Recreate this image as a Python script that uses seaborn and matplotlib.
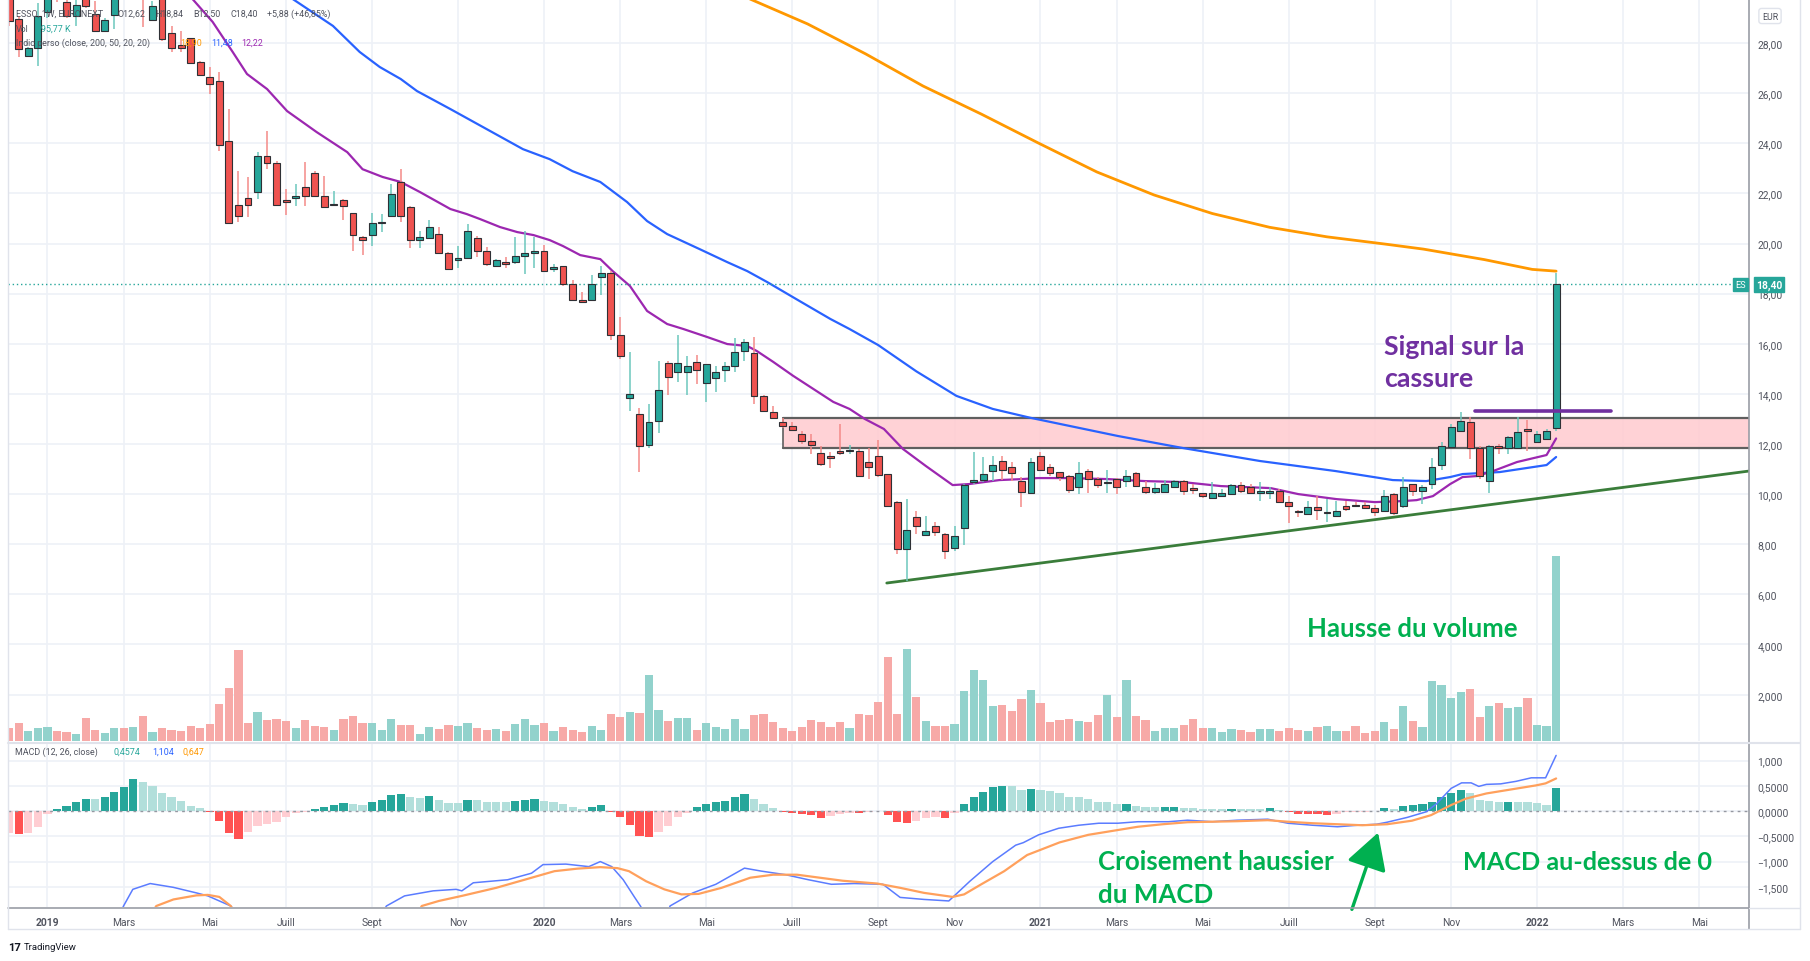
import numpy as np
import pandas as pd
import matplotlib
matplotlib.use("Agg")
import matplotlib.pyplot as plt
import seaborn as sns
from matplotlib.lines import Line2D

# ---------------- DATA ----------------
start_date = "2018-12-10"   # weekly candles (Mondays)
opens = [30.40, 28.97, 27.48, 27.79, 29.23, 30.80, 29.66, 29.10, 30.00, 29.16,
         28.50, 29.13, 30.40, 30.00, 30.60, 28.94, 29.90, 28.39, 27.94, 28.21,
         27.26, 26.65, 26.48, 24.10, 21.55, 21.82, 22.07, 23.51, 23.23, 21.75,
         21.82, 22.25, 22.81, 21.91, 21.53, 21.75, 21.21, 20.25, 20.34, 20.82,
         21.11, 22.45, 21.47, 20.15, 20.24, 20.39, 19.63, 19.36, 19.44, 20.22,
         19.69, 19.09, 19.25, 19.25, 19.52, 19.63, 19.69, 19.00, 19.09, 18.39,
         17.76, 17.76, 18.65, 18.83, 16.36, 13.82, 13.20, 11.96, 12.93, 15.23,
         14.86, 14.86, 15.26, 14.42, 14.62, 14.97, 15.13, 15.73, 15.63, 13.93,
         13.26, 12.86, 12.73, 12.40, 12.13, 11.64, 11.53, 11.70, 11.71, 11.73,
         11.27, 11.53, 10.79, 9.70, 7.81, 9.10, 8.38, 8.71, 8.41, 7.85,
         8.65, 10.50, 10.56, 10.93, 11.31, 11.07, 10.51, 10.03, 11.53, 11.07,
         10.87, 10.71, 10.27, 10.94, 10.60, 10.43, 10.60, 10.51, 10.84, 10.30,
         10.10, 10.10, 10.30, 10.54, 10.23, 10.04, 9.84, 9.91, 10.00, 10.36,
         10.30, 10.03, 10.03, 10.14, 9.70, 9.32, 9.20, 9.47, 9.23, 9.14,
         9.54, 9.58, 9.56, 9.43, 9.34, 10.01, 9.54, 10.40, 10.14, 10.40,
         11.16, 11.90, 12.53, 12.89, 11.83, 10.54, 11.93, 11.83, 11.83, 12.54,
         12.09, 12.20, 12.62]
highs = [30.80, 29.10, 27.85, 29.60, 30.60, 31.20, 30.00, 29.90, 30.20, 29.70,
         29.00, 30.40, 30.80, 30.70, 30.90, 29.70, 30.00, 28.70, 28.50, 28.21,
         27.30, 27.04, 26.84, 25.37, 22.91, 22.65, 23.67, 24.48, 23.30, 22.18,
         22.38, 23.24, 22.90, 22.71, 22.09, 21.78, 21.21, 20.30, 21.21, 21.18,
         22.38, 22.98, 21.50, 20.49, 20.94, 20.68, 19.65, 19.89, 20.78, 20.30,
         19.85, 19.40, 19.45, 20.25, 20.52, 20.25, 19.96, 19.18, 19.10, 18.56,
         18.05, 18.76, 19.09, 18.90, 17.06, 15.66, 13.43, 13.60, 15.33, 15.30,
         16.35, 15.53, 15.55, 15.20, 15.10, 15.26, 16.22, 16.19, 16.26, 13.95,
         13.53, 13.02, 12.86, 12.53, 12.40, 11.93, 11.67, 12.80, 11.96, 11.80,
         11.83, 12.16, 10.80, 9.72, 9.80, 9.34, 9.11, 8.87, 8.45, 8.71,
         10.40, 11.69, 11.47, 11.53, 11.51, 11.27, 10.67, 11.43, 11.69, 11.20,
         10.90, 10.75, 11.27, 11.00, 10.67, 10.98, 10.65, 10.98, 10.87, 10.54,
         10.44, 10.58, 10.57, 10.57, 10.40, 10.06, 10.50, 10.20, 10.40, 10.47,
         10.40, 10.50, 10.27, 10.20, 9.94, 9.35, 9.74, 9.91, 9.80, 9.74,
         9.74, 9.67, 9.67, 9.56, 10.18, 10.05, 10.67, 10.42, 10.35, 11.43,
         12.09, 12.80, 13.29, 13.06, 11.93, 11.95, 12.00, 12.30, 13.09, 12.96,
         12.53, 12.60, 18.84]
lows = [28.70, 27.44, 27.44, 27.10, 29.00, 29.63, 29.00, 28.70, 29.40, 28.45,
        28.45, 28.57, 29.85, 29.90, 28.63, 28.90, 28.10, 27.64, 27.64, 27.15,
        26.68, 25.97, 23.68, 20.80, 20.87, 21.05, 21.78, 22.98, 21.50, 21.14,
        21.51, 21.49, 21.85, 21.45, 21.51, 20.95, 19.72, 19.56, 19.92, 20.45,
        21.10, 20.87, 19.83, 19.82, 20.20, 19.60, 18.95, 19.01, 19.40, 19.45,
        19.10, 19.05, 19.01, 19.20, 18.79, 19.01, 18.90, 18.85, 18.32, 17.72,
        17.63, 17.70, 17.96, 16.16, 15.39, 13.30, 10.90, 11.84, 12.43, 13.97,
        14.46, 13.96, 14.40, 13.69, 14.09, 14.46, 14.86, 15.33, 13.60, 13.30,
        13.00, 12.65, 12.50, 12.00, 11.60, 11.13, 11.03, 11.55, 11.60, 10.70,
        10.60, 10.70, 9.50, 7.60, 6.55, 8.41, 8.34, 8.34, 7.41, 7.74,
        7.97, 10.40, 10.47, 10.54, 10.58, 10.54, 9.47, 10.00, 10.94, 10.71,
        10.54, 10.03, 10.00, 10.04, 10.23, 10.03, 10.00, 10.27, 10.27, 10.00,
        10.00, 10.07, 10.27, 9.96, 10.00, 9.83, 9.83, 9.87, 9.98, 10.04,
        10.00, 9.74, 9.80, 9.67, 8.85, 9.10, 9.15, 8.98, 8.90, 9.10,
        9.34, 9.47, 9.40, 9.14, 9.30, 9.18, 9.43, 9.94, 9.60, 10.20,
        10.97, 11.86, 12.50, 11.40, 10.60, 10.04, 11.60, 11.60, 11.80, 11.73,
        12.06, 12.17, 12.50]
closes = [28.90, 27.77, 27.79, 29.07, 30.20, 30.10, 29.10, 29.52, 29.47, 28.50,
          28.94, 30.00, 30.00, 30.40, 29.90, 29.50, 28.17, 27.79, 27.79, 27.20,
          26.73, 26.39, 23.94, 20.82, 21.11, 21.55, 23.50, 23.23, 21.55, 21.65,
          21.91, 21.91, 21.91, 21.47, 21.57, 21.49, 20.34, 20.16, 20.83, 20.86,
          21.98, 21.11, 20.15, 20.25, 20.66, 19.63, 18.99, 19.43, 20.52, 19.72,
          19.19, 19.36, 19.19, 19.52, 19.63, 19.69, 18.92, 19.01, 18.39, 17.76,
          17.68, 18.39, 18.83, 16.36, 15.50, 14.00, 11.93, 12.89, 14.17, 14.69,
          15.23, 15.10, 14.97, 15.19, 14.86, 15.10, 15.66, 16.06, 13.93, 13.33,
          13.02, 12.70, 12.57, 12.13, 11.96, 11.20, 11.43, 11.65, 11.76, 10.74,
          11.07, 10.78, 9.54, 7.81, 8.58, 8.71, 8.54, 8.47, 7.74, 8.31,
          10.36, 10.57, 10.80, 11.16, 10.98, 10.84, 10.10, 11.27, 10.98, 10.84,
          10.67, 10.18, 10.84, 10.60, 10.36, 10.50, 10.27, 10.71, 10.31, 10.10,
          10.23, 10.40, 10.54, 10.14, 10.16, 9.91, 10.03, 10.03, 10.36, 10.14,
          10.03, 10.11, 10.14, 9.70, 9.54, 9.28, 9.47, 9.38, 9.27, 9.34,
          9.40, 9.51, 9.43, 9.27, 9.94, 9.25, 10.30, 10.14, 10.30, 11.07,
          11.93, 12.66, 12.93, 11.83, 10.71, 11.93, 11.84, 12.29, 12.49, 12.52,
          12.40, 12.53, 18.40]
volume = [671, 895, 579, 697, 737, 553, 526, 447, 1066, 618,
          487, 697, 697, 724, 1158, 513, 697, 618, 553, 776,
          684, 855, 1645, 2277, 3816, 895, 1329, 1013, 1053, 947,
          697, 987, 750, 724, 618, 1053, 1158, 882, 895, 618,
          1053, 816, 816, 447, 724, 658, 816, 750, 882, 697,
          618, 658, 579, 855, 1053, 816, 882, 579, 724, 618,
          540, 776, 618, 1250, 1119, 1316, 1277, 2816, 1382, 947,
          1092, 1092, 618, 882, 724, 658, 1053, 658, 1211, 1250,
          921, 697, 547, 724, 1000, 921, 724, 921, 697, 1250,
          1211, 1724, 3514, 1250, 3856, 1921, 947, 750, 776, 855,
          2158, 2987, 2593, 1553, 1592, 1355, 1842, 2211, 1684, 921,
          987, 1053, 947, 921, 1184, 1987, 1119, 2593, 1158, 987,
          553, 697, 697, 816, 1026, 697, 697, 513, 658, 618,
          513, 658, 658, 579, 697, 618, 579, 724, 776, 579,
          579, 750, 487, 579, 921, 658, 1553, 947, 724, 2553,
          2382, 1882, 2119, 2237, 1119, 1553, 1684, 1487, 1527, 1882,
          816, 776, 7580]
macd_hist = [-0.43, -0.46, -0.44, -0.32, -0.06, 0.04, 0.11, 0.19, 0.25, 0.245,
             0.28, 0.375, 0.47, 0.64, 0.58, 0.50, 0.36, 0.28, 0.20, 0.11,
             0.066, -0.01, -0.19, -0.44, -0.56, -0.41, -0.29, -0.26, -0.22, -0.125,
             -0.03, -0.01, 0.04, 0.08, 0.125, 0.17, 0.14, 0.125, 0.18, 0.22,
             0.32, 0.34, 0.28, 0.26, 0.30, 0.22, 0.16, 0.158, 0.22, 0.218,
             0.19, 0.19, 0.19, 0.21, 0.22, 0.24, 0.20, 0.19, 0.145, 0.085,
             0.046, 0.085, 0.125, -0.01, -0.12, -0.28, -0.49, -0.51, -0.41, -0.29,
             -0.125, -0.03, 0.08, 0.145, 0.18, 0.21, 0.28, 0.34, 0.24, 0.145,
             0.07, -0.01, -0.03, -0.06, -0.08, -0.145, -0.10, -0.065, -0.03, -0.045,
             -0.01, -0.007, -0.085, -0.21, -0.23, -0.19, -0.145, -0.125, -0.13, -0.046,
             0.145, 0.28, 0.375, 0.47, 0.50, 0.495, 0.42, 0.44, 0.42, 0.39,
             0.36, 0.28, 0.278, 0.24, 0.19, 0.18, 0.14, 0.15, 0.11, 0.085,
             0.078, 0.082, 0.086, 0.066, 0.066, 0.033, 0.033, 0.033, 0.046, 0.045,
             0.044, 0.043, 0.053, 0.02, -0.026, -0.05, -0.055, -0.06, -0.08, -0.053,
             -0.026, -0.013, -0.013, -0.007, 0.066, 0.04, 0.10, 0.125, 0.145, 0.19,
             0.28, 0.36, 0.42, 0.36, 0.22, 0.20, 0.18, 0.185, 0.18, 0.178,
             0.16, 0.13, 0.4574]

# moving averages (week index, value)
ma200_idx = [70, 77.6, 83.6, 89.7, 95.7, 101.8, 107.8, 113.9, 119.9, 126.0, 132.0, 138.0, 144.1, 148.1, 154.5, 159.5, 162]
ma200_val = [31.0, 29.76, 28.77, 27.57, 26.29, 25.17, 24.01, 22.86, 21.94, 21.20, 20.65, 20.27, 19.98, 19.78, 19.36, 18.97, 18.90]
ma50_idx = [22, 29.7, 33.9, 36.7, 38.8, 41.0, 42.7, 46.2, 53.8, 56.6, 59.0, 61.9, 64.7, 66.8, 68.9, 72.3, 75.2, 77.3,
            79.4, 82.8, 86.0, 88.0, 91.0, 95.0, 99.2, 103.0, 106.9, 116.1, 122.9, 131.0, 138.9, 144.9, 148.4, 150.9, 152.2, 156.1, 161.0, 162]
ma50_val = [31.7, 29.76, 28.69, 27.65, 27.05, 26.57, 26.09, 25.37, 23.77, 23.37, 22.89, 22.46, 21.66, 20.90, 20.38, 19.78, 19.26, 18.90,
            18.46, 17.70, 16.99, 16.59, 15.95, 14.90, 13.92, 13.40, 13.05, 12.32, 11.84, 11.32, 10.92, 10.56, 10.52, 10.68, 10.80, 10.88, 11.16, 11.48]
ma20_idx = [15, 19.2, 21.3, 23.4, 24.9, 27.0, 29.1, 32.2, 35.4, 37.0, 39.1, 41.0, 43.0, 46.2, 47.9, 49.3, 51.4, 53.2, 54.9, 56.6,
            58.0, 59.8, 61.9, 63.2, 65.0, 66.8, 68.9, 70.6, 73.1, 75.2, 77.3, 78.3, 80.0, 82.1, 84.2, 86.3, 88.0, 89.6, 91.6, 93.6,
            96.0, 98.8, 100.5, 103.7, 106.1, 107.7, 110.9, 115.0, 118.9, 122.9, 126.9, 132.1, 135.0, 139.0, 143.0, 145.9, 147.4, 149.1,
            150.9, 152.2, 153.7, 155.4, 157.9, 161.0, 162]
ma20_val = [31.0, 29.76, 28.85, 27.65, 26.77, 26.17, 25.29, 24.45, 23.65, 22.97, 22.66, 22.46, 22.06, 21.38, 21.18, 20.98, 20.66, 20.46, 20.34, 20.14,
            19.90, 19.54, 19.38, 18.90, 18.31, 17.31, 16.79, 16.59, 16.27, 15.99, 15.91, 15.71, 15.28, 14.72, 14.20, 13.68, 13.40, 13.00, 12.60, 11.80,
            11.12, 10.36, 10.40, 10.56, 10.60, 10.64, 10.64, 10.60, 10.52, 10.48, 10.32, 10.24, 10.00, 9.80, 9.68, 9.72, 9.76, 9.92,
            10.40, 10.68, 10.72, 10.92, 11.28, 11.56, 12.22]

macd_idx = [11.0, 11.97, 12.94, 14.76, 17.17, 19.59, 20.8, 23.2, 25.0, 38.3, 39.5, 41.4, 44.4, 46.8, 47.4, 48.6, 52.2, 54.7, 55.9,
            58.3, 60.7, 61.9, 63.1, 64.3, 65.5, 66.1, 67.3, 68.6, 69.2, 71.6, 74.0, 77.0, 78.8, 81.3, 83.7, 86.1, 88.5, 91.5, 93.3,
            95.8, 98.4, 100.6, 103.0, 105.4, 106.2, 107.8, 109.9, 112.0, 114.1, 116.1, 118.2, 121.4, 123.4, 126.0, 128.6, 131.8,
            133.9, 136.5, 139.1, 141.2, 143.2, 144.3, 146.4, 148.4, 149.5, 151.0, 152.1, 153.1, 153.9, 154.7, 156.2, 157.8, 159.4, 160.9, 162]
macd_val = [-2.3, -1.88, -1.55, -1.435, -1.51, -1.62, -1.68, -1.88, -2.3, -2.3, -1.88, -1.68, -1.58, -1.55, -1.58, -1.42, -1.36, -1.23, -1.06,
            -1.05, -1.10, -1.0, -1.10, -1.36, -1.71, -1.88, -2.3, -2.3, -1.88, -1.62, -1.45, -1.13, -1.19, -1.26, -1.36, -1.45, -1.435, -1.45, -1.71,
            -1.75, -1.78, -1.39, -1.0, -0.675, -0.625, -0.47, -0.34, -0.28, -0.24, -0.24, -0.21, -0.21, -0.18, -0.21, -0.18, -0.16,
            -0.24, -0.28, -0.31, -0.28, -0.26, -0.22, -0.125, -0.013, 0.15, 0.45, 0.56, 0.56, 0.49, 0.53, 0.54, 0.59, 0.66, 0.66, 1.104]
signal_idx = [14.0, 15.4, 17.2, 19.6, 20.8, 22.0, 23.2, 24.4, 42.0, 43.2, 45.0, 47.4, 51.0, 54.7, 57.1, 59.5, 61.9, 63.7, 64.9, 66.7,
              68.6, 70.4, 72.2, 74.6, 77.6, 80.0, 82.5, 84.9, 87.3, 90.9, 93.3, 95.8, 98.8, 100.0, 101.8, 104.2, 106.6, 110.0, 113.0,
              115.6, 118.2, 120.8, 123.4, 126.0, 128.6, 131.8, 133.9, 136.5, 139.1, 141.7, 144.3, 146.9, 148.9, 151.0, 152.6, 154.7,
              157.3, 159.9, 160.9, 162]
signal_val = [-2.3, -1.88, -1.75, -1.67, -1.66, -1.70, -1.88, -2.3, -2.3, -1.88, -1.78, -1.68, -1.52, -1.32, -1.19, -1.14, -1.11, -1.13, -1.19, -1.39,
              -1.55, -1.65, -1.64, -1.52, -1.32, -1.26, -1.26, -1.32, -1.38, -1.435, -1.52, -1.62, -1.70, -1.65, -1.45, -1.19, -0.87, -0.62, -0.47,
              -0.39, -0.31, -0.26, -0.22, -0.21, -0.20, -0.18, -0.21, -0.24, -0.26, -0.28, -0.26, -0.19, -0.08, 0.12, 0.25, 0.35,
              0.43, 0.51, 0.55, 0.647]

zone_low, zone_high = 11.85, 13.03
zone_start_idx = 81.0
trend_idx = [91.9, 182.2]
trend_val = [6.45, 10.92]
signal_line_idx = [153.5, 167.8]
signal_line_val = [13.30, 13.30]
last_price = 18.40

price_ticks = [2, 4, 6, 8, 10, 12, 14, 16, 18, 20, 22, 24, 26, 28]
price_tick_labels = ["", "", "6,00", "8,00", "10,00", "12,00", "14,00", "16,00", "18,00", "20,00", "22,00", "24,00", "26,00", "28,00"]
vol_ticks = [2000, 4000]
vol_tick_labels = ["2,000", "4,000"]
macd_ticks = [1.0, 0.5, 0.0, -0.5, -1.0, -1.5]
macd_tick_labels = ["1,000", "0,5000", "0,0000", "\u22120,5000", "\u22121,000", "\u22121,500"]
month_starts = ["2019-01-01", "2019-03-01", "2019-05-01", "2019-07-01", "2019-09-01", "2019-11-01",
                "2020-01-01", "2020-03-01", "2020-05-01", "2020-07-01", "2020-09-01", "2020-11-01",
                "2021-01-01", "2021-03-01", "2021-05-01", "2021-07-01", "2021-09-01", "2021-11-01",
                "2022-01-01", "2022-03-01", "2022-05-01"]
month_labels = ["2019", "Mars", "Mai", "Juill", "Sept", "Nov",
                "2020", "Mars", "Mai", "Juill", "Sept", "Nov",
                "2021", "Mars", "Mai", "Juill", "Sept", "Nov",
                "2022", "Mars", "Mai"]

# ---------------- STYLE / LAYOUT ----------------
sns.set_theme(style="white")
plt.rcParams["font.family"] = ["Roboto", "DejaVu Sans"]

W, H = 1810, 962
fig = plt.figure(figsize=(W / 100, H / 100), dpi=100)
fig.patch.set_facecolor("white")


def rect(x0, y0, x1, y1):
    return [x0 / W, 1 - y1 / H, (x1 - x0) / W, (y1 - y0) / H]


def fx(x):
    return x / W


def fy(y):
    return 1 - y / H


UP, DOWN = "#26a69a", "#ef5350"
GRID = "#eef1f7"
LBL = "#50535e"

n = len(closes)
idx = np.arange(n)
o, h, l, c = map(np.array, (opens, highs, lows, closes))
up = c >= o

ax = fig.add_axes(rect(8, 0, 1749, 742))            # price (bottom layer, holds grid)
ax_vol = fig.add_axes(rect(8, 0, 1749, 742), sharex=ax)  # volume overlay
ax_vol.set_facecolor("none")
ax_m = fig.add_axes(rect(8, 745, 1749, 908), sharex=ax)

xmin, xmax = -0.13, 182.2
start = pd.Timestamp(start_date)
tick_pos = [int(np.ceil((pd.Timestamp(d) - start).days / 7)) for d in month_starts]

# volume
vdf = pd.DataFrame({"i": idx, "v": volume, "dir": np.where(up, "up", "down")})
sns.barplot(data=vdf, x="i", y="v", hue="dir", palette={"up": "#92d2cc", "down": "#f7a9a7"},
            native_scale=True, width=0.86, saturation=1, dodge=False, legend=False,
            errorbar=None, ax=ax_vol, linewidth=0)
ax_vol.set_ylim(160, 29840)
ax_vol.set_yticks(vol_ticks)
ax_vol.set_yticklabels(vol_tick_labels)
ax_vol.set_xlabel("")
ax_vol.set_ylabel("")

# zone
ax.fill_between([zone_start_idx, xmax], zone_low, zone_high, color="#ffcdd2", alpha=0.9, lw=0, zorder=1)
ax.plot([zone_start_idx, xmax], [zone_high, zone_high], color="#5f5f5f", lw=1.6, zorder=2)
ax.plot([zone_start_idx, xmax], [zone_low, zone_low], color="#5f5f5f", lw=1.6, zorder=2)
ax.plot([zone_start_idx, zone_start_idx], [zone_low, zone_high], color="#5f5f5f", lw=1.2, zorder=2)

# moving averages
sns.lineplot(x=ma200_idx, y=ma200_val, ax=ax, color="#ff9800", lw=2.0, estimator=None, sort=False, zorder=2)
sns.lineplot(x=ma50_idx, y=ma50_val, ax=ax, color="#2962ff", lw=1.6, estimator=None, sort=False, zorder=2)
sns.lineplot(x=ma20_idx, y=ma20_val, ax=ax, color="#9c27b0", lw=1.6, estimator=None, sort=False, zorder=2)

# trend line and signal line
ax.plot(trend_idx, trend_val, color="#3a7d3a", lw=2.0, zorder=2)
ax.plot(signal_line_idx, signal_line_val, color="#7030a0", lw=2.6, zorder=5)

# candles
wick_col = np.where(up, "#6cc7bd", "#f48a88")
ax.vlines(idx, l, h, colors=wick_col, lw=1.1, zorder=3)
body_col = np.where(up, UP, DOWN)
ax.bar(idx, np.maximum(np.abs(c - o), 0.06), bottom=np.minimum(o, c), width=0.72,
       color=body_col, edgecolor="#2e3035", linewidth=0.8, zorder=4)

# last price dotted line
ax.axhline(last_price, color=UP, lw=1.0, ls=(0, (1, 2)), zorder=2)

ax.set_xlim(xmin, xmax)
ax.set_ylim(0.144, 29.764)
ax.set_yticks(price_ticks)
ax.set_yticklabels(price_tick_labels)
ax.set_xlabel("")
ax.set_ylabel("")

# MACD
hist = np.array(macd_hist)
prev = np.concatenate([[hist[0]], hist[:-1]])
cat = np.where(hist >= 0, np.where(hist > prev, "pg", "pl"), np.where(hist < prev, "ng", "nl"))
mdf = pd.DataFrame({"i": idx, "hv": hist, "cat": cat})
sns.barplot(data=mdf, x="i", y="hv", hue="cat",
            palette={"pg": "#26a69a", "pl": "#b2dfdb", "ng": "#ff5252", "nl": "#ffcdd2"},
            native_scale=True, width=0.86, saturation=1, dodge=False, legend=False,
            errorbar=None, ax=ax_m, linewidth=0)
ax_m.axhline(0, color="#9598a1", lw=1.0, ls=(0, (2, 3)), zorder=1)
sns.lineplot(x=macd_idx, y=macd_val, ax=ax_m, color="#5b7cff", lw=1.1, estimator=None, sort=False)
sns.lineplot(x=signal_idx, y=signal_val, ax=ax_m, color="#ffa05c", lw=1.6, estimator=None, sort=False)
ax_m.set_ylim(-1.90, 1.33)
ax_m.set_yticks(macd_ticks)
ax_m.set_yticklabels(macd_tick_labels)
ax_m.set_xlabel("")
ax_m.set_ylabel("")
ax_m.set_xlim(xmin, xmax)

for a in (ax_vol, ax, ax_m):
    for s in a.spines.values():
        s.set_visible(False)
    a.yaxis.tick_right()
    a.tick_params(axis="y", length=0, pad=6, labelsize=7.4, labelcolor=LBL)
    a.set_xticks(tick_pos)
    a.tick_params(axis="x", length=0)

ax.grid(True, axis="both", color=GRID, lw=1.2)
ax.set_axisbelow(True)
ax_vol.grid(False)
ax_m.grid(True, axis="both", color=GRID, lw=1.2)
ax_m.set_axisbelow(True)
ax.tick_params(axis="x", labelbottom=False)
ax_vol.tick_params(axis="x", labelbottom=False)
ax_m.set_xticklabels(month_labels)
ax_m.tick_params(axis="x", labelsize=7.4, labelcolor=LBL, pad=7)
for t, lab in zip(ax_m.get_xticklabels(), month_labels):
    if lab.isdigit():
        t.set_fontweight("bold")

# frame / separators
def fline(x0, y0, x1, y1, color, lw):
    fig.add_artist(Line2D([fx(x0), fx(x1)], [fy(y0), fy(y1)], color=color, lw=lw, transform=fig.transFigure))

fline(1749, 0, 1749, 930, "#9a9da5", 1.2)
fline(8, 743.5, 1800, 743.5, "#e0e3eb", 1.5)
fline(8, 908.5, 1749, 908.5, "#9a9da5", 1.2)
fline(1749, 908.5, 1800, 908.5, "#e0e3eb", 1.0)
fline(8, 930, 1800, 930, "#e0e3eb", 1.0)
fline(1800, 0, 1800, 930, "#e0e3eb", 1.0)
fline(8, 0, 8, 930, "#e0e3eb", 1.0)

# price tags
fig.text(fx(1740.5), fy(285.5), "ES", ha="center", va="center", fontsize=6.6, color="white",
         bbox=dict(boxstyle="square,pad=0.25", fc=UP, ec=UP))
fig.text(fx(1769), fy(285.5), "18,40", ha="center", va="center", fontsize=7.4, color="white",
         fontweight="bold", bbox=dict(boxstyle="square,pad=0.22", fc=UP, ec=UP))
fig.text(fx(1770), fy(17), "EUR", ha="center", va="center", fontsize=6.3, color=LBL,
         bbox=dict(boxstyle="round,pad=0.35,rounding_size=0.3", fc="white", ec="#e0e3eb"))

# legend texts
def ltxt(x, y, s, col=LBL, size=6.4):
    fig.text(fx(x), fy(y), s, ha="left", va="center", fontsize=size, color=col)

ltxt(16, 14, "ESSO, 1W, EURONEXT")
ltxt(117, 14, "O12,62")
ltxt(155, 14, "H18,84")
ltxt(193, 14, "B12,50")
ltxt(230, 14, "C18,40")
ltxt(267, 14, "+5,88 (+46,85%)")
ltxt(16, 29, "Vol")
ltxt(41, 29, "95,77 K", "#26a69a")
ltxt(16, 43, "Indic perso (close, 200, 50, 20, 20)")
ltxt(180, 43, "18,90", "#ff9800")
ltxt(211, 43, "11,48", "#2962ff")
ltxt(241, 43, "12,22", "#9c27b0")
ltxt(15, 752, "MACD (12, 26, close)")
ltxt(113, 752, "0,4574", "#26a69a")
ltxt(152, 752, "1,104", "#2962ff")
ltxt(182, 752, "0,647", "#ff9800")

# annotations
ann_font = ["Lato", "DejaVu Sans"]
fig.text(fx(1384), fy(355), "Signal sur la", ha="left", va="baseline", fontsize=19.3,
         fontweight="bold", color="#7030a0", family=ann_font)
fig.text(fx(1384), fy(387), "cassure", ha="left", va="baseline", fontsize=19.3,
         fontweight="bold", color="#7030a0", family=ann_font)
fig.text(fx(1307), fy(637), "Hausse du volume", ha="left", va="baseline", fontsize=18.5,
         fontweight="bold", color="#00b050", family=ann_font)
fig.text(fx(1098), fy(870), "Croisement haussier", ha="left", va="baseline", fontsize=18.6,
         fontweight="bold", color="#00b050", family=ann_font)
fig.text(fx(1098), fy(903), "du MACD", ha="left", va="baseline", fontsize=18.6,
         fontweight="bold", color="#00b050", family=ann_font)
fig.text(fx(1463), fy(870), "MACD au-dessus de 0", ha="left", va="baseline", fontsize=18.2,
         fontweight="bold", color="#00b050", family=ann_font)
fig.add_artist(matplotlib.patches.FancyArrowPatch(
    (fx(1351), fy(913)), (fx(1379), fy(831)), transform=fig.transFigure,
    arrowstyle="-|>,head_length=1.6,head_width=0.9", mutation_scale=14, lw=2.4, color="#00b050"))

# TradingView logo
fig.text(fx(8), fy(948), "17", ha="left", va="center", fontsize=8, fontweight="bold", color="#131722")
fig.text(fx(24), fy(948), "TradingView", ha="left", va="center", fontsize=6.8, color="#131722")

fig.savefig("out.png", dpi=100, facecolor="white")
